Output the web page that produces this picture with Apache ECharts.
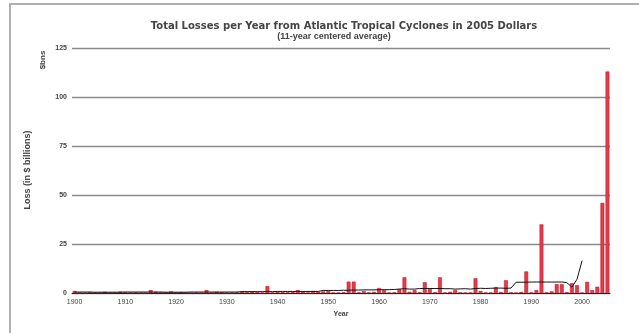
<!DOCTYPE html>
<html>
<head>
<meta charset="utf-8">
<script src="https://cdn.jsdelivr.net/npm/echarts@6/dist/echarts.min.js"></script>
<style>html,body{margin:0;padding:0;background:#fff;}#c{width:639px;height:333px;}</style>
</head>
<body>
<div id="c"></div>
<script>
var titleText = 'Total Losses per Year from Atlantic Tropical Cyclones in 2005 Dollars';
var subtitleText = '(11-year centered average)';
var yAxisName = 'Loss (in $ billions)';
var yUnit = '$bns';
var xAxisName = 'Year';
var years = [];
for (var y = 1900; y <= 2005; y++) years.push(String(y));
// losses per year, $ billions (2005 dollars), 1900..2005
var losses = [
  1.0, 0.2, 0.1, 0.4, 0.2, 0.1, 0.6, 0.1, 0.2, 0.7,   // 1900-1909
  0.4, 0.2, 0.3, 0.1, 0.1, 1.5, 0.6, 0.3, 0.3, 0.8,   // 1910-1919
  0.2, 0.4, 0.1, 0.1, 0.3, 0.1, 1.5, 0.1, 0.6, 0.4,   // 1920-1929
  0.1, 0.1, 0.3, 0.6, 0.4, 0.8, 0.4, 0.1, 3.5, 0.2,   // 1930-1939
  0.5, 0.4, 0.3, 0.5, 1.5, 0.6, 0.2, 1.0, 0.6, 0.8,   // 1940-1949
  1.0, 0.2, 0.2, 0.3, 5.8, 5.8, 0.3, 1.0, 0.2, 0.6,   // 1950-1959
  2.5, 1.5, 0.2, 0.3, 2.0, 8.0, 0.6, 1.5, 0.4, 5.5,   // 1960-1969
  2.0, 0.4, 8.0, 0.2, 0.6, 1.5, 0.3, 0.1, 0.2, 7.5,   // 1970-1979
  1.0, 0.2, 0.2, 3.0, 0.5, 6.5, 0.3, 0.1, 0.5, 11.0,  // 1980-1989
  0.2, 1.5, 35.0, 0.3, 0.8, 4.5, 4.5, 0.4, 5.0, 4.0,  // 1990-1999
  0.1, 5.7, 1.5, 3.2, 46.0, 113.0                     // 2000-2005
];
// 11-year centered average, $ billions, 1900..2000
var avg11 = [
  0.5, 0.5, 0.5, 0.5, 0.4, 0.4, 0.4, 0.4, 0.4, 0.4,
  0.5, 0.5, 0.5, 0.5, 0.5, 0.5, 0.5, 0.5, 0.4, 0.4,
  0.4, 0.4, 0.4, 0.5, 0.5, 0.5, 0.5, 0.5, 0.5, 0.5,
  0.5, 0.5, 0.5, 0.7, 0.7, 0.7, 0.7, 0.7, 0.7, 0.7,
  0.8, 0.8, 0.8, 0.8, 0.8, 0.8, 0.8, 0.8, 0.8, 1.3,
  1.3, 1.3, 1.3, 1.4, 1.4, 1.5, 1.5, 1.6, 1.6, 1.6,
  1.7, 1.7, 1.7, 1.8, 2.0, 2.2, 2.0, 2.0, 2.3, 2.3,
  2.3, 2.3, 2.3, 2.2, 2.2, 2.0, 2.1, 2.2, 2.0, 2.3,
  2.4, 2.3, 2.4, 2.5, 2.5, 2.4, 2.5, 5.5, 5.5, 5.5,
  5.6, 5.6, 5.6, 5.6, 5.6, 5.6, 5.6, 5.3, 3.0, 7.0,
  16.5
];
var yTicks = [0, 25, 50, 75, 100, 125];

var lineData = years.map(function (yr, i) { return i < avg11.length ? avg11[i] : null; });

var chart = echarts.init(document.getElementById('c'), null, {renderer: 'canvas'});
var txt = '#444';
chart.setOption({
  animation: false,
  backgroundColor: '#fff',
  title: [{
    text: titleText,
    left: 339, top: 16, textAlign: 'center',
    textStyle: {fontFamily: 'DejaVu Sans', fontSize: 10, fontWeight: 'bold', color: txt}
  }, {
    text: subtitleText,
    left: 329, top: 27, textAlign: 'center',
    textStyle: {fontFamily: 'Liberation Sans', fontSize: 9, fontWeight: 'bold', color: txt}
  }],
  grid: {left: 72, top: 48, width: 538, height: 245},
  xAxis: {
    type: 'category',
    data: years,
    boundaryGap: true,
    name: xAxisName,
    nameLocation: 'middle',
    nameGap: 18,
    nameTextStyle: {fontFamily: 'Liberation Sans', fontSize: 7, fontWeight: 'bold', color: txt},
    axisLine: {lineStyle: {color: '#222', width: 1}},
    axisTick: {show: false},
    axisLabel: {
      interval: function (i) { return i % 10 === 0; },
      fontFamily: 'Liberation Sans', fontSize: 7, color: txt, margin: 6
    },
    splitLine: {show: false}
  },
  yAxis: {
    type: 'value',
    min: 0, max: 125, interval: 25,
    axisLine: {show: false},
    axisTick: {show: false},
    axisLabel: {
      formatter: function (v) { return yTicks.indexOf(v) >= 0 ? String(v) : ''; },
      fontFamily: 'Liberation Sans', fontSize: 7, fontWeight: 'bold', color: txt, margin: 5
    },
    splitLine: {lineStyle: {color: '#8a8a8a', width: 1.3}}
  },
  graphic: [{
    type: 'rect', shape: {x: 10, y: 4, width: 660, height: 360},
    style: {fill: 'none', stroke: '#b0b0b0', lineWidth: 2}, silent: true, z: 0
  }, {
    type: 'text', x: 28, y: 170, rotation: Math.PI / 2,
    style: {text: yAxisName, fontFamily: 'Liberation Sans', fontSize: 9, fontWeight: 'bold', fill: txt, textAlign: 'center', textVerticalAlign: 'middle'}
  }, {
    type: 'text', x: 43, y: 60, rotation: Math.PI / 2,
    style: {text: yUnit, fontFamily: 'Liberation Sans', fontSize: 8, fontWeight: 'bold', fill: txt, textAlign: 'center', textVerticalAlign: 'middle'}
  }],
  series: [{
    type: 'bar',
    data: losses,
    barCategoryGap: '25%',
    itemStyle: {color: '#e23c4a', borderColor: '#b3142a', borderWidth: 0.5},
    z: 2
  }, {
    type: 'line',
    data: lineData,
    symbol: 'none',
    connectNulls: false,
    lineStyle: {color: '#111', width: 1},
    z: 3
  }]
});
</script>
</body>
</html>
